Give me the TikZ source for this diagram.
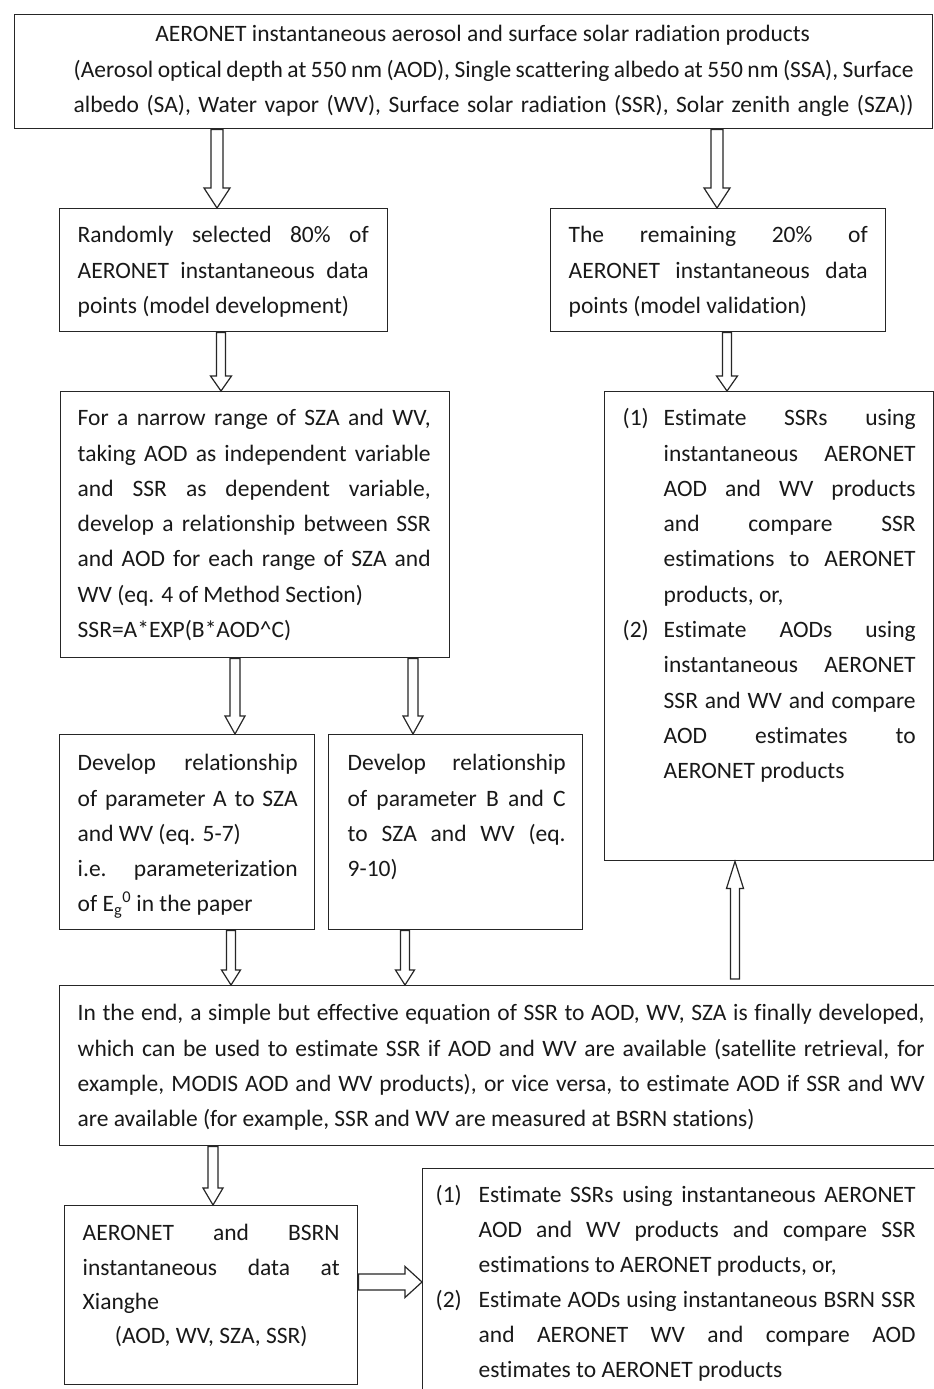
\documentclass[tikz,border=0pt]{standalone}
\usepackage{fontspec}
\setmainfont{Carlito}[Ligatures=NoCommon]
\usetikzlibrary{calc}
\newcommand\ff{\fontsize{23.5pt}{35.3pt}\selectfont}
\newcommand\jl[1]{\makebox[\hsize][s]{#1}}
\newlength\indw
\newcommand\ia[2]{\makebox[\indw][l]{#1}\makebox[\dimexpr\hsize-\indw\relax][s]{#2}}
\newcommand\ib[1]{\hspace*{\indw}\makebox[\dimexpr\hsize-\indw\relax][s]{#1}}
% name, x1, y1, x2, y2, text left, text right, content
\newcommand\bx[8]{%
  \pgfmathsetlengthmacro\bxL{#6-#2}%
  \pgfmathsetlengthmacro\bxW{#7-#6}%
  \pgfmathsetlengthmacro\bxH{#5-#3}%
  \pgfmathsetlengthmacro\bxT{#4-#2}%
  \node[box] (#1) at (#2,#3) {\makebox[\bxT][l]{\hspace*{\bxL}\parbox[c][\bxH][t]{\bxW}{\ff #8}}};}
% start, end, shaft half width, head half width, head length
\newcommand\barrow[5]{%
  \coordinate (arA) at (#1);
  \coordinate (arB) at (#2);
  \coordinate (arC) at ($(arB)!#5pt!(arA)$);
  \draw[blockarrow] ($(arA)!#3pt!90:(arB)$) -- ($(arC)!#3pt!-90:(arA)$) -- ($(arC)!#4pt!-90:(arA)$) -- (arB)
    -- ($(arC)!#4pt!90:(arA)$) -- ($(arC)!#3pt!90:(arA)$) -- ($(arA)!#3pt!-90:(arB)$) -- cycle;}
\tikzset{
  box/.style={draw=black!85, line width=1.4pt, rectangle, inner sep=0pt, anchor=north west, text=black!90},
  blockarrow/.style={draw=black!85, line width=1.2pt, fill=white, line join=miter},
}
\begin{document}
\begin{tikzpicture}[x=1pt,y=-1pt]
\useasboundingbox (0,0) rectangle (934,1389);
\fill[white] (0,0) rectangle (934,1389);
\clip (0,0) rectangle (934,1389);

\bx{top}{14}{14}{932}{128}{73}{913}{\rule{0pt}{27pt}\makebox[\hsize]{\hspace*{-22pt}AERONET instantaneous aerosol and surface solar radiation products}\\
\jl{(Aerosol optical depth at 550 nm (AOD), Single scattering albedo at 550 nm (SSA), Surface}\\
\jl{albedo (SA), Water vapor (WV), Surface solar radiation (SSR), Solar zenith angle (SZA))}}

\bx{p80}{59}{208}{387}{331}{77}{368}{\rule{0pt}{34pt}\jl{Randomly selected 80\% of}\\
\jl{AERONET instantaneous data}\\
points (model development)}

\bx{p20}{550}{208}{885}{331}{568}{867}{\rule{0pt}{34pt}\jl{The remaining 20\% of}\\
\jl{AERONET instantaneous data}\\
points (model validation)}

\bx{nar}{60}{391}{449}{657}{77}{430}{\rule{0pt}{34pt}\jl{For a narrow range of SZA and WV,}\\
\jl{taking AOD as independent variable}\\
\jl{and SSR as dependent variable,}\\
\jl{develop a relationship between SSR}\\
\jl{and AOD for each range of SZA and}\\
WV (eq. 4 of Method Section)\\
SSR=A*EXP(B*AOD\textasciicircum C)}

\bx{rbox}{604}{391}{933}{860}{622}{915}{\setlength\indw{41pt}\rule{0pt}{34pt}\ia{(1)}{Estimate SSRs using}\\
\ib{instantaneous AERONET}\\
\ib{AOD and WV products}\\
\ib{and compare SSR}\\
\ib{estimations to AERONET}\\
\hspace*{\indw}products, or,\\
\ia{(2)}{Estimate AODs using}\\
\ib{instantaneous AERONET}\\
\ib{SSR and WV and compare}\\
\ib{AOD estimates to}\\
\hspace*{\indw}AERONET products}

\bx{boxA}{59}{734}{314}{929}{77}{297}{\rule{0pt}{36pt}\jl{Develop relationship}\\
\jl{of parameter A to SZA}\\
and WV (eq. 5-7)\\
\jl{i.e. parameterization}\\
of E\textsubscript{g}\textsuperscript{0} in the paper}

\bx{boxB}{328}{734}{582}{929}{347}{565}{\rule{0pt}{36pt}\jl{Develop relationship}\\
\jl{of parameter B and C}\\
\jl{to SZA and WV (eq.}\\
9-10)}

\bx{endb}{59}{985}{942}{1145}{77}{924}{\rule{0pt}{35pt}\jl{In the end, a simple but effective equation of SSR to AOD, WV, SZA is finally developed,}\\
\jl{which can be used to estimate SSR if AOD and WV are available (satellite retrieval, for}\\
\jl{example, MODIS AOD and WV products), or vice versa, to estimate AOD if SSR and WV}\\
are available (for example, SSR and WV are measured at BSRN stations)}

\bx{xh}{64}{1205}{357}{1384}{82}{339}{\fontsize{23.5pt}{34.3pt}\selectfont\rule{0pt}{35pt}\jl{AERONET and BSRN}\\
\jl{instantaneous data at}\\
Xianghe\\
\makebox[\hsize]{(AOD, WV, SZA, SSR)}}

\bx{br}{422}{1168}{945}{1400}{435}{915}{\fontsize{23.5pt}{35pt}\selectfont\setlength\indw{43pt}\rule{0pt}{34pt}\ia{(1)}{Estimate SSRs using instantaneous AERONET}\\
\ib{AOD and WV products and compare SSR}\\
\hspace*{\indw}estimations to AERONET products, or,\\
\ia{(2)}{Estimate AODs using instantaneous BSRN SSR}\\
\ib{and AERONET WV and compare AOD}\\
\hspace*{\indw}estimates to AERONET products}

\barrow{top.south -| 217,0}{p80.north -| 217,0}{6}{13}{20}
\barrow{top.south -| 717,0}{p20.north -| 717,0}{6}{13}{20}
\barrow{p80.south -| 221,0}{nar.north -| 221,0}{4.5}{10.5}{15}
\barrow{p20.south -| 727,0}{rbox.north -| 727,0}{4.5}{10.5}{15}
\barrow{nar.south -| 235,0}{boxA.north -| 235,0}{5}{10}{18}
\barrow{nar.south -| 413,0}{boxB.north -| 413,0}{5}{10}{18}
\barrow{boxA.south -| 231,0}{endb.north -| 231,0}{4.5}{9.5}{15}
\barrow{boxB.south -| 405,0}{endb.north -| 405,0}{4.5}{9.5}{15}
\coordinate (upfoot) at ($(endb.north -| 735,0)+(0,-6)$);
\barrow{upfoot}{rbox.south -| 735,0}{4.5}{8.5}{27}
\barrow{endb.south -| 213,0}{xh.north -| 213,0}{5}{10}{17}
\barrow{xh.east |- 0,1282}{br.west |- 0,1282}{8}{15.5}{17}
\end{tikzpicture}
\end{document}
